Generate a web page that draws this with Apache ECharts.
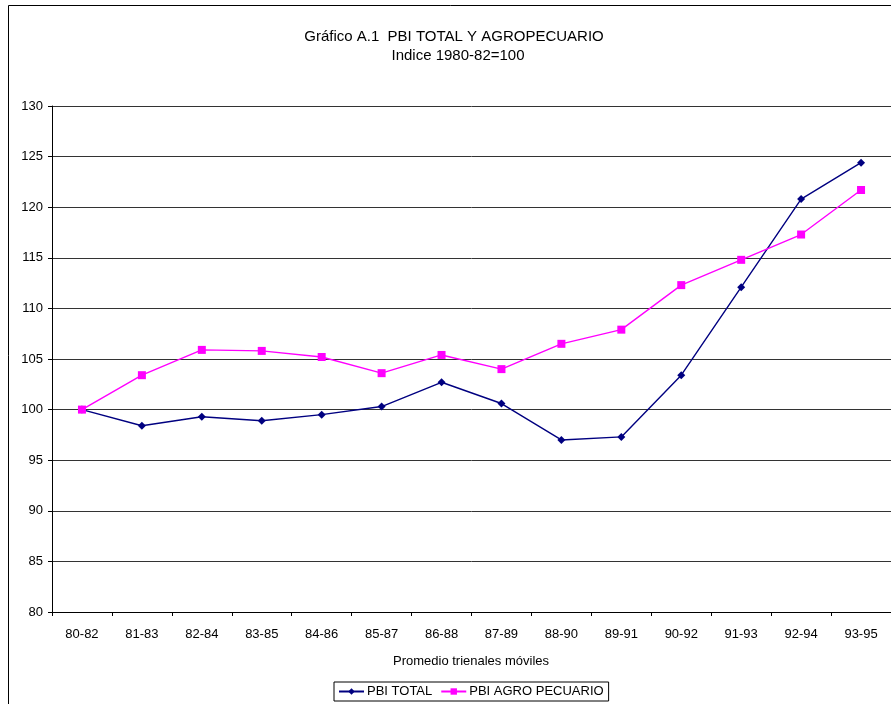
<!DOCTYPE html>
<html>
<head>
<meta charset="utf-8">
<script src="https://cdn.jsdelivr.net/npm/echarts@6/dist/echarts.min.js"></script>
<style>html,body{margin:0;padding:0;background:#fff;}#c{width:891px;height:704px;}</style>
</head>
<body>
<div id="c"></div>
<script>
var categories = ['80-82','81-83','82-84','83-85','84-86','85-87','86-88','87-89','88-90','89-91','90-92','91-93','92-94','93-95'];
var pbiTotal = [100, 98.4, 99.3, 98.9, 99.5, 100.3, 102.7, 100.6, 97.0, 97.3, 103.4, 112.1, 120.8, 124.4];
var pbiAgro = [100, 103.4, 105.9, 105.8, 105.2, 103.6, 105.4, 104.0, 106.5, 107.9, 112.3, 114.8, 117.3, 121.7];
var titleText = 'Gráfico A.1  PBI TOTAL Y AGROPECUARIO';
var subtitleText = 'Indice 1980-82=100';
var xAxisName = 'Promedio trienales móviles';

var chart = echarts.init(document.getElementById('c'), null, {renderer: 'canvas'});
var font = '"Liberation Sans", Arial, sans-serif';
chart.setOption({
  animation: false,
  backgroundColor: '#fff',
  textStyle: {fontFamily: font},
  graphic: [
    {type: 'rect', shape: {x: 8.5, y: 5.5, width: 1000, height: 1000}, style: {fill: 'none', stroke: '#000', lineWidth: 1}, z: -1},
    {type: 'text', x: 454, y: 29, style: {text: titleText, fontSize: 15, fontFamily: font, fill: '#000', textAlign: 'center'}},
    {type: 'text', x: 458, y: 48, style: {text: subtitleText, fontSize: 15, fontFamily: font, fill: '#000', textAlign: 'center'}},
    {type: 'text', x: 471, y: 655, style: {text: xAxisName, fontSize: 13, fontFamily: font, fill: '#000', textAlign: 'center'}}
  ],
  legend: {
    left: 334, top: 682,
    itemWidth: 25, itemHeight: 8, itemGap: 8,
    padding: [3, 5, 3, 4],
    borderColor: '#000', borderWidth: 1,
    textStyle: {fontSize: 13, fontFamily: font, color: '#000', padding: [0, 0, 0, -2]},
    data: ['PBI TOTAL', 'PBI AGRO PECUARIO']
  },
  grid: {left: 52, right: -1, top: 106, bottom: 92, containLabel: false},
  xAxis: {
    type: 'category', data: categories, boundaryGap: true,
    axisLine: {lineStyle: {color: '#000', width: 1}},
    axisTick: {show: true, length: 4, lineStyle: {color: '#000'}},
    axisLabel: {color: '#000', fontSize: 13, margin: 16, fontFamily: font}
  },
  yAxis: {
    type: 'value', min: 80, max: 130, interval: 5,
    axisLine: {show: true, lineStyle: {color: '#000', width: 1}},
    axisTick: {show: true, length: 4, lineStyle: {color: '#000'}},
    axisLabel: {color: '#000', fontSize: 13, margin: 9, fontFamily: font},
    splitLine: {show: true, lineStyle: {color: '#333', width: 1}}
  },
  series: [
    {name: 'PBI TOTAL', type: 'line', data: pbiTotal, symbol: 'diamond', symbolSize: 8,
     lineStyle: {color: '#000080', width: 1.4}, itemStyle: {color: '#000080'}},
    {name: 'PBI AGRO PECUARIO', type: 'line', data: pbiAgro, symbol: 'rect', symbolSize: 8,
     lineStyle: {color: '#FF00FF', width: 1.4}, itemStyle: {color: '#FF00FF'}}
  ]
});
</script>
</body>
</html>
